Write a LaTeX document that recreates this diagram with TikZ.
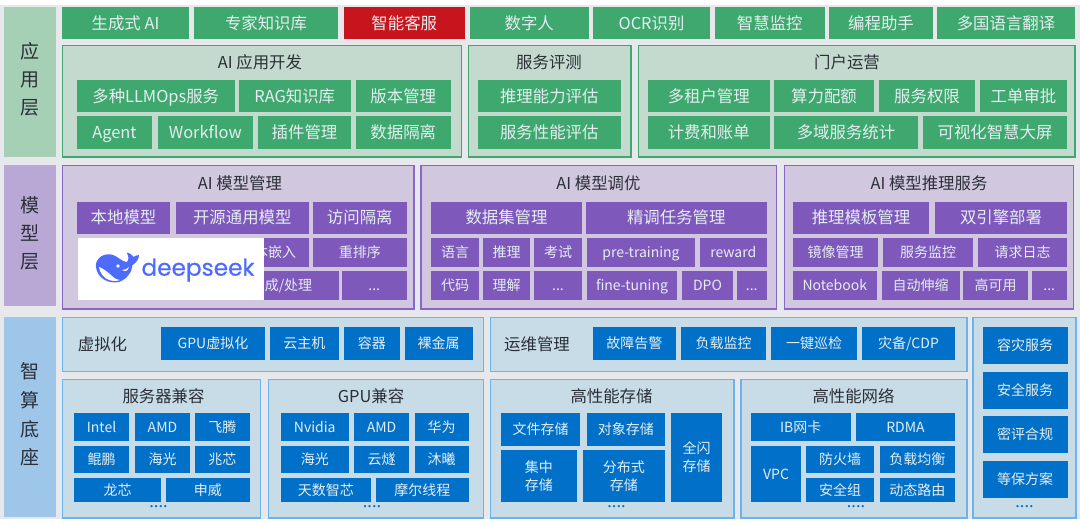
\documentclass[tikz,border=0pt]{standalone}
\usepackage{fontspec}
\setmainfont{Noto Sans CJK SC}
\newfontfamily\logofont[FakeBold=0.5]{Poppins}
\newfontfamily\dotfont{DejaVu Sans}
\definecolor{pagebg}{HTML}{E6E8EC}
\definecolor{gside}{HTML}{A5D0B6}
\definecolor{gpanel}{HTML}{C4DACE}
\definecolor{gbtn}{HTML}{3FA86F}
\definecolor{redbtn}{HTML}{C8151D}
\definecolor{pside}{HTML}{B9A8D6}
\definecolor{ppanel}{HTML}{D1C8E0}
\definecolor{pline}{HTML}{8866C6}
\definecolor{pbtn}{HTML}{7F58BC}
\definecolor{bside}{HTML}{9DC6E8}
\definecolor{bpanel}{HTML}{C8DCE8}
\definecolor{bline}{HTML}{6BB3EA}
\definecolor{bbtn}{HTML}{0070C8}
\definecolor{ink}{HTML}{2B2F38}
\definecolor{btntext}{HTML}{E4EEF0}
\definecolor{dsblue}{HTML}{4D6BFE}
\tikzset{
  x=0.75pt,y=-0.75pt,
  basebox/.style={inner sep=0pt,outer sep=0pt,text=btntext,font=\fontsize{12.3pt}{15pt}\selectfont,text height=10.8pt,text depth=1.5pt},
  small/.style={font=\fontsize{10.5pt}{15pt}\selectfont,text height=9.24pt,text depth=1.26pt},
  sidebox/.style={inner sep=0pt,outer sep=0pt},
  sidetext/.style={inner sep=0pt,outer sep=0pt,align=center,text=ink,font=\fontsize{14.25pt}{21pt}\selectfont},
  twolines/.style={inner sep=0pt,outer sep=0pt,align=center,text=btntext,font=\fontsize{10.5pt}{13.6pt}\selectfont},
  gs/.style={sidebox,fill=gside},
  ps/.style={sidebox,fill=pside},
  bs/.style={sidebox,fill=bside},
  gp/.style={basebox,fill=gpanel,draw=gbtn,line width=1.1pt},
  pp/.style={basebox,fill=ppanel,draw=pline,line width=1.1pt},
  bp/.style={basebox,fill=bpanel,draw=bline,line width=1.1pt},
  gb/.style={basebox,fill=gbtn},
  rb/.style={basebox,fill=redbtn},
  pb/.style={basebox,fill=pbtn},
  bb/.style={basebox,fill=bbtn},
  caption/.style={inner sep=0pt,outer sep=0pt,text=ink,font=\fontsize{12.3pt}{15pt}\selectfont},
  moredots/.style={inner sep=0pt,outer sep=0pt,text=bbtn,font=\dotfont\fontsize{5.8pt}{6pt}\selectfont},
}
% style, name, x1, y1, x2, y2, text
\newcommand{\bx}[7]{%
  \pgfmathsetmacro{\bxw}{(#5-#3)*0.75}%
  \pgfmathsetmacro{\bxh}{(#6-#4)*0.75}%
  \node[#1,minimum width=\bxw pt,minimum height=\bxh pt] (#2) at ({(#3+#5)/2},{(#4+#6)/2}) {#7};}
\begin{document}
\begin{tikzpicture}
\useasboundingbox (0,0) rectangle (1080,524);
\fill[white] (0,0) rectangle (1080,524);
\fill[pagebg] (0,5) rectangle (1080,519);
% ---- application layer
\bx{gs}{sideA}{4}{7}{56}{157}{}
\node[sidetext] (sideAt) at (30,79.5) {应\\用\\层};
\bx{gb}{t1}{62}{7}{189}{39.5}{生成式 AI}
\bx{gb}{t2}{194}{7}{338}{39.5}{专家知识库}
\bx{rb}{t3}{343.5}{7}{465}{39.5}{智能客服}
\bx{gb}{t4}{470}{7}{588.5}{39.5}{数字人}
\bx{gb}{t5}{593}{7}{710}{39.5}{OCR识别}
\bx{gb}{t6}{715}{7}{824.5}{39.5}{智慧监控}
\bx{gb}{t7}{829}{7}{933}{39.5}{编程助手}
\bx{gb}{t8}{937}{7}{1075}{39.5}{多国语言翻译}
\bx{gp}{pA1}{62.5}{45.5}{461.5}{157}{}
\node[caption] (cA1) at (260,62) {AI 应用开发};
\bx{gb}{a1}{77}{80}{234.5}{112.5}{多种LLMOps服务}
\bx{gb}{a2}{238.5}{80}{351}{112.5}{RAG知识库}
\bx{gb}{a3}{355.5}{80}{451}{112.5}{版本管理}
\bx{gb}{a4}{77}{116.5}{152}{149}{Agent}
\bx{gb}{a5}{157.5}{116.5}{253}{149}{Workflow}
\bx{gb}{a6}{258}{116.5}{351}{149}{插件管理}
\bx{gb}{a7}{355.5}{116.5}{451}{149}{数据隔离}
\bx{gp}{pA2}{468.5}{45.5}{631}{157}{}
\node[caption] (cA2) at (549,62) {服务评测};
\bx{gb}{b1}{477.5}{80}{621}{112.5}{推理能力评估}
\bx{gb}{b2}{477.5}{116.5}{621}{149}{服务性能评估}
\bx{gp}{pA3}{638.5}{45.5}{1075}{157}{}
\node[caption] (cA3) at (847,62) {门户运营};
\bx{gb}{c1}{648}{80}{769.5}{112.5}{多租户管理}
\bx{gb}{c2}{774}{80}{874}{112.5}{算力配额}
\bx{gb}{c3}{879}{80}{975}{112.5}{服务权限}
\bx{gb}{c4}{980}{80}{1067}{112.5}{工单审批}
\bx{gb}{c5}{648}{116.5}{769.5}{149}{计费和账单}
\bx{gb}{c6}{774}{116.5}{918}{149}{多域服务统计}
\bx{gb}{c7}{923}{116.5}{1067}{149}{可视化智慧大屏}
% ---- model layer
\bx{ps}{sideB}{4}{165}{56}{306}{}
\node[sidetext] (sideBt) at (30,233) {模\\型\\层};
\bx{pp}{pB1}{62.5}{165.5}{414}{309}{}
\node[caption] (cB1) at (240,183) {AI 模型管理};
\bx{pb}{d1}{77}{201.5}{170}{234}{本地模型}
\bx{pb}{d2}{176}{201.5}{308.5}{234}{开源通用模型}
\bx{pb}{d3}{313}{201.5}{406.5}{234}{访问隔离}
\bx{pb,small}{d4}{120}{238}{308.5}{266.5}{}
\bx{pb,small}{d5}{313}{238}{406.5}{266.5}{重排序}
\bx{pb,small}{d6}{120}{271}{338.5}{299.5}{}
\bx{pb,small}{d7}{342}{271}{406.5}{299.5}{...}
\node[small,inner sep=0pt,text=btntext] (d4t) at (275,252) {本嵌入};
\node[small,inner sep=0pt,text=btntext] (d6t) at (288.5,285) {成/处理};
% deepseek logo
\fill[white] (77.5,238) rectangle (264,299.5);
\fill[dsblue] (95.8,266) .. controls (96,257) and (105,252.5) .. (113,255)
  .. controls (118,256.5) and (122,262) .. (127,262)
  .. controls (129,260) and (129,256) .. (126.5,252.5)
  .. controls (130,253) and (132,255) .. (133.5,257)
  .. controls (135,256) and (137,255) .. (139,255)
  .. controls (139,259) and (136,263) .. (132.5,265)
  .. controls (132,272) and (127,279) .. (119,282)
  .. controls (109,284) and (97,279) .. (95.8,266) -- cycle;
\fill[white] (99,267) .. controls (104,269) and (109,273) .. (112,276)
  .. controls (115,279) and (118,280) .. (120,280)
  .. controls (112,283) and (101,279) .. (99,267) -- cycle;
\fill[white] (118,266) circle (1.8);
\fill[white] (122,270) .. controls (125,270) and (127,269) .. (129,267)
  .. controls (128,271) and (125,272) .. (122,270) -- cycle;
\node[inner sep=0pt,outer sep=0pt,anchor=base west,text=dsblue,font=\logofont\fontsize{17.4pt}{20pt}\selectfont] (logo) at (141.5,275.7) {deepseek};
\bx{pp}{pB2}{421}{165.5}{776.5}{309}{}
\node[caption] (cB2) at (598.5,183) {AI 模型调优};
\bx{pb}{e1}{431}{201.5}{582}{234}{数据集管理}
\bx{pb}{e2}{586}{201.5}{766.5}{234}{精调任务管理}
\bx{pb,small}{e3}{431}{238}{479}{266.5}{语言}
\bx{pb,small}{e4}{483}{238}{530}{266.5}{推理}
\bx{pb,small}{e5}{534}{238}{582}{266.5}{考试}
\bx{pb,small}{e6}{587}{238}{695}{266.5}{pre-training}
\bx{pb,small}{e7}{700}{238}{766.5}{266.5}{reward}
\bx{pb,small}{e8}{431}{271}{479}{299.5}{代码}
\bx{pb,small}{e9}{483}{271}{530}{299.5}{理解}
\bx{pb,small}{e10}{534}{271}{582}{299.5}{...}
\bx{pb,small}{e11}{587}{271}{677}{299.5}{fine-tuning}
\bx{pb,small}{e12}{682}{271}{733}{299.5}{DPO}
\bx{pb,small}{e13}{737}{271}{766.5}{299.5}{...}
\bx{pp}{pB3}{784.5}{165.5}{1073.5}{309}{}
\node[caption] (cB3) at (929,183) {AI 模型推理服务};
\bx{pb}{f1}{793}{201.5}{929}{234}{推理模板管理}
\bx{pb}{f2}{935}{201.5}{1067}{234}{双引擎部署}
\bx{pb,small}{f3}{793}{238}{878}{266.5}{镜像管理}
\bx{pb,small}{f4}{883}{238}{973}{266.5}{服务监控}
\bx{pb,small}{f5}{978}{238}{1067}{266.5}{请求日志}
\bx{pb,small}{f6}{793}{271}{876.5}{299.5}{Notebook}
\bx{pb,small}{f7}{881.5}{271}{959.5}{299.5}{自动伸缩}
\bx{pb,small}{f8}{963}{271}{1028}{299.5}{高可用}
\bx{pb,small}{f9}{1031.5}{271}{1067}{299.5}{...}
% ---- compute base layer
\bx{bs}{sideC}{4}{317}{56}{517}{}
\node[sidetext,font=\fontsize{14.25pt}{21.4pt}\selectfont] (sideCt) at (30,414.5) {智\\算\\底\\座};
\bx{bp}{pC1}{62.5}{317.5}{483.5}{371.5}{}
\node[caption] (cC1) at (102.5,344) {虚拟化};
\bx{bb,small}{g1}{161}{327}{265}{360}{GPU虚拟化}
\bx{bb,small}{g2}{270}{327}{338.5}{360}{云主机}
\bx{bb,small}{g3}{344}{327}{399.5}{360}{容器}
\bx{bb,small}{g4}{404.5}{327}{472.5}{360}{裸金属}
\bx{bp}{pC2}{490.5}{317.5}{967}{371.5}{}
\node[caption] (cC2) at (537,344) {运维管理};
\bx{bb,small}{h1}{593}{327}{675.5}{360}{故障告警}
\bx{bb,small}{h2}{681}{327}{766}{360}{负载监控}
\bx{bb,small}{h3}{771}{327}{857}{360}{一键巡检}
\bx{bb,small}{h4}{862}{327}{955}{360}{灾备/CDP}
\bx{bp}{pC3}{62.5}{379.5}{260.5}{518}{}
\node[caption] (cC3) at (163.5,396) {服务器兼容};
\bx{bb,small}{i1}{74}{413}{129}{440.5}{Intel}
\bx{bb,small}{i2}{135}{413}{190}{440.5}{AMD}
\bx{bb,small}{i3}{195}{413}{249.5}{440.5}{飞腾}
\bx{bb,small}{i4}{74}{445.5}{129}{473}{鲲鹏}
\bx{bb,small}{i5}{135}{445.5}{190}{473}{海光}
\bx{bb,small}{i6}{195}{445.5}{249.5}{473}{兆芯}
\bx{bb,small}{i7}{74}{477.5}{161}{502}{龙芯}
\bx{bb,small}{i8}{166}{477.5}{249.5}{502}{申威}
\node[moredots] (iD) at (158.5,507) {••••};
\bx{bp}{pC4}{268.5}{379.5}{483.5}{518}{}
\node[caption] (cC4) at (371,396) {GPU兼容};
\bx{bb,small}{j1}{280.5}{413}{349}{440.5}{Nvidia}
\bx{bb,small}{j2}{354}{413}{409}{440.5}{AMD}
\bx{bb,small}{j3}{414.5}{413}{468.5}{440.5}{华为}
\bx{bb,small}{j4}{280.5}{445.5}{349}{473}{海光}
\bx{bb,small}{j5}{354}{445.5}{409}{473}{云燧}
\bx{bb,small}{j6}{414.5}{445.5}{468.5}{473}{沐曦}
\bx{bb,small}{j7}{280.5}{477.5}{371}{502}{天数智芯}
\bx{bb,small}{j8}{376}{477.5}{468.5}{502}{摩尔线程}
\node[moredots] (jD) at (372,507) {••••};
\bx{bp}{pC5}{490.5}{379.5}{734}{518}{}
\node[caption] (cC5) at (611.5,396) {高性能存储};
\bx{bb,small}{k1}{501}{413}{580}{446}{文件存储}
\bx{bb,small}{k2}{586.5}{413}{665}{446}{对象存储}
\bx{bb,small}{k3}{671}{413}{722}{502}{}
\node[twolines] (k3t) at (696.5,457.5) {全闪\\存储};
\bx{bb,small}{k4}{501}{450}{576.5}{502}{}
\node[twolines] (k4t) at (538.75,476.5) {集中\\存储};
\bx{bb,small}{k5}{582.5}{450}{665}{502}{}
\node[twolines] (k5t) at (623.75,476.5) {分布式\\存储};
\node[moredots] (kD) at (616.5,507) {••••};
\bx{bp}{pC6}{741}{379.5}{967}{518}{}
\node[caption] (cC6) at (853.5,396) {高性能网络};
\bx{bb,small}{l1}{751}{413}{850.5}{441}{IB网卡}
\bx{bb,small}{l2}{856}{413}{955}{441}{RDMA}
\bx{bb,small}{l3}{751}{445.5}{801}{502}{VPC}
\bx{bb,small}{l4}{806}{445.5}{874}{473}{防火墙}
\bx{bb,small}{l5}{879.5}{445.5}{955}{473}{负载均衡}
\bx{bb,small}{l6}{806}{477.5}{874}{502}{安全组}
\bx{bb,small}{l7}{879.5}{477.5}{955}{502}{动态路由}
\node[moredots] (lD) at (856,507) {••••};
\bx{bp}{pC7}{973}{317.5}{1076}{518}{}
\bx{bb,small}{m1}{982.5}{327}{1067.5}{364}{容灾服务}
\bx{bb,small}{m2}{982.5}{371.5}{1067.5}{409}{安全服务}
\bx{bb,small}{m3}{982.5}{416}{1067.5}{453}{密评合规}
\bx{bb,small}{m4}{982.5}{460.5}{1067.5}{497.5}{等保方案}
\node[moredots] (mD) at (1024.5,507) {••••};
\end{tikzpicture}
\end{document}
